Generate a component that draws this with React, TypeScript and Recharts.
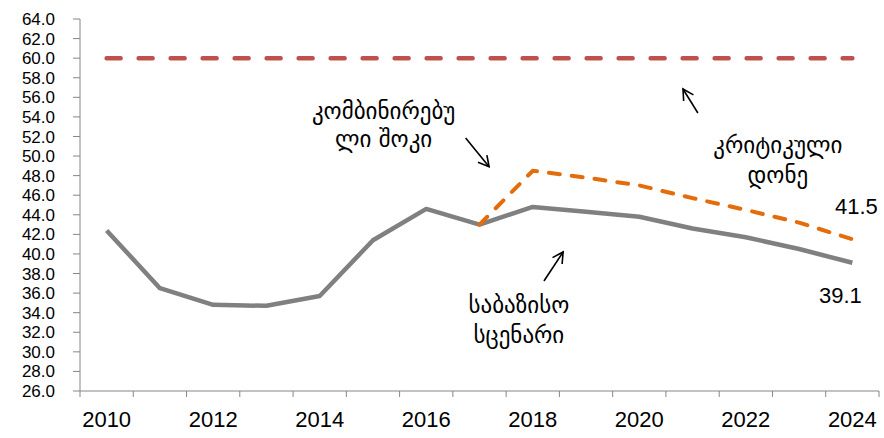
import React from "react";
import {
  Line,
  LineChart,
  ReferenceDot,
  ReferenceLine,
  XAxis,
  YAxis,
} from "recharts";

const years = [
  2010, 2011, 2012, 2013, 2014, 2015, 2016, 2017, 2018, 2019, 2020, 2021, 2022,
  2023, 2024,
];
const baseScenario = [
  42.4, 36.5, 34.8, 34.7, 35.7, 41.4, 44.6, 43.0, 44.8, 44.3, 43.8, 42.6, 41.7,
  40.5, 39.1,
];
const combinedShock = [
  null, null, null, null, null, null, null, 43.0, 48.5, 47.8, 47.0, 45.7, 44.5,
  43.2, 41.5,
];
const criticalLevel = [
  60, 60, 60, 60, 60, 60, 60, 60, 60, 60, 60, 60, 60, 60, 60,
];
const yTicks = [
  26, 28, 30, 32, 34, 36, 38, 40, 42, 44, 46, 48, 50, 52, 54, 56, 58, 60, 62,
  64,
];
const yearLabels = [2010, 2012, 2014, 2016, 2018, 2020, 2022, 2024];
const yearBounds = years.map((y) => y - 0.5).concat([2024.5]);

const data = years.map((year, i) => ({
  year,
  base: baseScenario[i],
  shock: combinedShock[i],
  critical: criticalLevel[i],
}));

const GEO = "'DejaVu Sans', sans-serif";
const NUM = "'Liberation Sans', Arial, sans-serif";

// text notes, anchored in data coordinates
const notes = [
  { x: 2015.2, y: 53.8, lines: ["კომბინირებუ", "ლი შოკი"], gap: 28 },
  { x: 2017.74, y: 34.0, lines: ["საბაზისო", "სცენარი"], gap: 30 },
  { x: 2022.6, y: 50.3, lines: ["კრიტიკული", "დონე"], gap: 30 },
];

const arrows = [
  { from: { x: 2016.74, y: 51.84 }, to: { x: 2017.18, y: 48.9 } },
  { from: { x: 2018.21, y: 37.24 }, to: { x: 2018.57, y: 40.2 } },
  { from: { x: 2021.1, y: 54.4 }, to: { x: 2020.82, y: 56.85 } },
];

const YearTick = (props: any) => {
  const { x, y, payload } = props;
  const v = payload.value;
  if (v % 1 !== 0) {
    return <line x1={x} y1={y} x2={x} y2={y + 6} stroke="#868686" />;
  }
  return (
    <text x={x} y={y + 36} textAnchor="middle" fontSize={22} fontFamily={NUM} fill="#000">
      {v}
    </text>
  );
};

const Arrow = (props: any) => {
  const { x1, y1, x2, y2 } = props;
  const a = Math.atan2(y2 - y1, x2 - x1);
  const h = 12;
  const s = 0.5;
  const ax = x2 - h * Math.cos(a - s);
  const ay = y2 - h * Math.sin(a - s);
  const bx = x2 - h * Math.cos(a + s);
  const by = y2 - h * Math.sin(a + s);
  return (
    <g stroke="#000" strokeWidth={1.6} fill="none">
      <line x1={x1} y1={y1} x2={x2} y2={y2} />
      <polyline points={`${ax},${ay} ${x2},${y2} ${bx},${by}`} />
    </g>
  );
};

const noteShape = (lines: string[], gap: number) => (p: any) => (
  <g>
    {lines.map((t, i) => (
      <text
        key={i}
        x={p.cx}
        y={p.cy + i * gap}
        textAnchor="middle"
        fontSize={23}
        fontFamily={GEO}
        fill="#000"
      >
        {t}
      </text>
    ))}
  </g>
);

const valueShape = (text: string, dx: number, dy: number) => (p: any) => (
  <text x={p.cx + dx} y={p.cy + dy} textAnchor="middle" fontSize={22} fontFamily={NUM} fill="#000">
    {text}
  </text>
);

export default function App() {
  return (
    <div style={{ position: "absolute", left: 0, top: 0 }}>
      <LineChart
        width={884}
        height={438}
        data={data}
        margin={{ top: 19, right: 5, left: 0, bottom: 0 }}
      >
        <XAxis
          dataKey="year"
          type="number"
          domain={[2009.5, 2024.5]}
          ticks={[...yearBounds, ...yearLabels].sort((a, b) => a - b)}
          interval={0}
          height={47}
          tickSize={0}
          tickMargin={0}
          tickLine={false}
          axisLine={{ stroke: "#868686" }}
          tick={<YearTick />}
        />
        <YAxis
          type="number"
          domain={[26, 64]}
          ticks={yTicks}
          interval={0}
          width={80}
          tickSize={7}
          tickMargin={18}
          tickFormatter={(v: number) => v.toFixed(1)}
          axisLine={{ stroke: "#868686" }}
          tickLine={{ stroke: "#868686" }}
          tick={{ fill: "#000", fontSize: 17, fontFamily: NUM }}
        />
        <Line
          dataKey="critical"
          stroke="#C0504D"
          strokeWidth={4.5}
          strokeDasharray="14 18"
          strokeLinecap="round"
          dot={false}
          isAnimationActive={false}
        />
        <Line
          dataKey="base"
          stroke="#808080"
          strokeWidth={4.5}
          strokeLinejoin="round"
          dot={false}
          isAnimationActive={false}
        />
        <Line
          dataKey="shock"
          stroke="#E46C0A"
          strokeWidth={4}
          strokeDasharray="11 12"
          strokeLinecap="round"
          dot={false}
          isAnimationActive={false}
        />
        {arrows.map((a, i) => (
          <ReferenceLine
            key={"a" + i}
            segment={[a.from, a.to]}
            ifOverflow="visible"
            shape={<Arrow />}
          />
        ))}
        {notes.map((n, i) => (
          <ReferenceDot
            key={"n" + i}
            x={n.x}
            y={n.y}
            r={0}
            ifOverflow="visible"
            shape={noteShape(n.lines, n.gap)}
          />
        ))}
        <ReferenceDot
          x={2024}
          y={combinedShock[14] as number}
          r={0}
          ifOverflow="visible"
          shape={valueShape("41.5", 4, -25)}
        />
        <ReferenceDot
          x={2024}
          y={baseScenario[14]}
          r={0}
          ifOverflow="visible"
          shape={valueShape("39.1", -12, 40)}
        />
      </LineChart>
    </div>
  );
}
